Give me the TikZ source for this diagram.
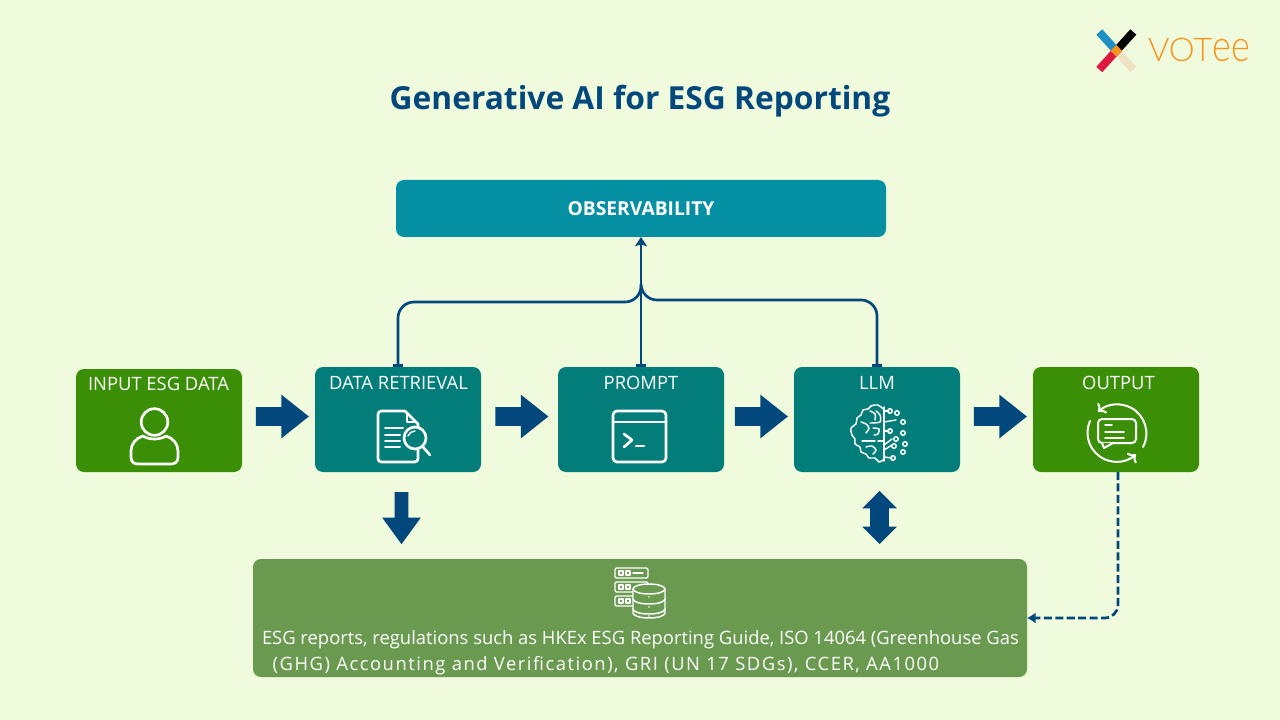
\documentclass[tikz,border=0pt]{standalone}
\usepackage{fontspec}
\usepackage{tikz}
\usetikzlibrary{arrows.meta,shapes.arrows}
\setmainfont{Open Sans}
\newfontfamily\logofont{Lato Light}
\definecolor{pagegreen}{HTML}{F0FADC}
\definecolor{navyblue}{HTML}{03487C}
\definecolor{stepteal}{HTML}{027D7A}
\definecolor{stepgreen}{HTML}{3A8F06}
\definecolor{storegreen}{HTML}{6A9A50}
\definecolor{watchteal}{HTML}{058FA3}
\definecolor{logoorange}{HTML}{F7941D}
\definecolor{logocream}{HTML}{EFE3C4}
\definecolor{logored}{HTML}{E0173F}
\definecolor{logoblue}{HTML}{1F8FC6}

\begin{document}
\begin{tikzpicture}[x=0.75pt, y=-0.75pt, every node/.style={font=\fontsize{13.8}{15}\selectfont, text=white, inner sep=0pt, outer sep=0pt},
	stepbox/.style={rounded corners=6pt, minimum width=124.5pt, minimum height=78.75pt},
	steplabel/.style={anchor=center},
	blockright/.style={single arrow, fill=navyblue, minimum height=39.75pt, minimum width=32.25pt, single arrow head extend=9.4pt, single arrow tip angle=77, single arrow head indent=0pt},
	blockdown/.style={single arrow, fill=navyblue, rotate=-90, minimum height=39pt, minimum width=28.5pt, single arrow head extend=9.4pt, single arrow tip angle=72, single arrow head indent=0pt},
	blockboth/.style={double arrow, fill=navyblue, rotate=90, minimum height=39.75pt, minimum width=25.5pt, double arrow head extend=6pt, double arrow tip angle=90, double arrow head indent=0pt},
	feedline/.style={draw=navyblue, line width=2pt},
	icon/.style={draw=white, line width=2pt, line cap=round, line join=round},
	midicon/.style={draw=white, line width=1.5pt, line cap=round, line join=round},
	thinicon/.style={draw=white, line width=1.1pt, line cap=round, line join=round}]
	\fill[pagegreen] (0,0) rectangle (1280,720);
	\useasboundingbox (0,0) rectangle (1280,720);

	\node[text=navyblue, font=\fontsize{23.8}{28}\selectfont\bfseries] (title) at (640,101) {Generative AI for ESG Reporting};

	\node[stepbox, fill=watchteal, minimum width=367.5pt, minimum height=42.75pt, font=\fontsize{14.4}{15}\selectfont\bfseries] (observability) at (641,208.5) {\raisebox{-1pt}{OBSERVABILITY}};
	\node[stepbox, fill=stepgreen, minimum height=77.25pt] (input) at (159,420.5) {};
	\node[stepbox, fill=stepteal] (retrieval) at (398,419.5) {};
	\node[stepbox, fill=stepteal] (prompt) at (641,419.5) {};
	\node[stepbox, fill=stepteal] (llm) at (877,419.5) {};
	\node[stepbox, fill=stepgreen] (output) at (1116,419.5) {};
	\node[stepbox, fill=storegreen, minimum width=580.5pt, minimum height=88.5pt] (store) at (640,618) {};

	\node[steplabel] (inputlabel) at (158.5,383.5) {INPUT ESG DATA};
	\node[steplabel] (retrievallabel) at (398.5,382.5) {DATA RETRIEVAL};
	\node[steplabel] (promptlabel) at (641,382.5) {PROMPT};
	\node[steplabel] (llmlabel) at (877,382.5) {LLM};
	\node[steplabel] (outputlabel) at (1118.5,382.5) {OUTPUT};
	\node[anchor=west, align=left, font=\fontsize{13.8}{19.5}\selectfont] (storelabel) at (262,653) {ESG reports, regulations such as HKEx ESG Reporting Guide, ISO 14064 (Greenhouse Gas\\\hspace*{8pt}{\addfontfeature{LetterSpace=8.3}(GHG) Accounting and Verification), GRI (UN 17 SDGs), CCER, AA1000}};

	\node[blockright] (arrowa) at (276.5,416.5) {\rule{0pt}{13.5pt}};
	\node[blockright] (arrowb) at (516,416.5) {\rule{0pt}{13.5pt}};
	\node[blockright] (arrowc) at (755.5,416.5) {\rule{0pt}{13.5pt}};
	\node[blockright] (arrowd) at (994.5,416.5) {\rule{0pt}{13.5pt}};
	\node[blockdown] (arrowe) at (401.5,513.5) {\rule{0pt}{9.75pt}};
	\node[blockboth] (arrowf) at (879.5,517.5) {\rule{0pt}{13.5pt}};

	\coordinate (join) at (641,286);
	\coordinate (railleft) at (641,302);
	\coordinate (railright) at (641,300);
	\draw[feedline, {Stealth[length=7pt,width=9pt,inset=1.5pt]}-] (observability.south) -- (prompt.north);
	\draw[feedline, {Bar[width=8pt]}-] (prompt.north) -- (join);
	\draw[feedline, {Bar[width=8pt]}-, rounded corners=12pt] (retrieval.north) |- (railleft) -- (join);
	\draw[feedline, {Bar[width=8pt]}-, rounded corners=12pt] (llm.north) |- (railright) -- (join);
	\draw[feedline, dashed, dash pattern=on 6pt off 2.6pt, -{Latex[length=6.5pt,width=8.5pt]}, rounded corners=10pt] ([xshift=1.5pt]output.south) |- (store.east);

	% person
	\draw[icon] (154.5,422) circle (13.3);
	\draw[icon] (143,436) .. controls (149,440) and (160,440) .. (166,436) .. controls (173,438) and (178,444) .. (178,451) -- (178,457) .. controls (178,462) and (175,464) .. (171,464) -- (138,464) .. controls (134,464) and (131,462) .. (131,457) -- (131,451) .. controls (131,444) and (136,438) .. (143,436) -- cycle;

	% document
	\draw[icon, rounded corners=2.5pt] (418,450) -- (418,462) -- (378,462) -- (378,411) -- (405,411);
	\draw[icon] (405,411) -- (418,424) -- (418,427);
	\draw[midicon] (407,414) -- (407,422) -- (415,422);
	\foreach \y/\x in {428/403,435/400,441/400,447/400} {\draw[midicon] (385,\y) -- (\x,\y);}
	\draw[icon, fill=stepteal] (415,438) circle (11);
	\draw[icon] (423,447) -- (430,455);
	\draw[thinicon] (408,436) .. controls (409,433) and (412,431) .. (415,431);

	% window
	\draw[icon, rounded corners=3pt] (613,411) rectangle (666,462);
	\draw[icon] (613,422) -- (666,422);
	\draw[icon] (624,434) -- (632,440) -- (624,447);
	\draw[icon] (636,446) -- (644,446);

	% brain
	\draw[thinicon] plot[smooth, tension=0.7] coordinates {(883,409) (878,405) (871,406) (868,409) (863,410) (861,415) (857,418) (856,424) (851,428) (852,435) (855,439) (855,444) (860,447) (861,452) (866,454) (869,458) (875,458) (879,462) (883,460)};
	\draw[thinicon] (884,407) -- (884,461);
	\draw[thinicon] plot[smooth] coordinates {(870,411) (875,414) (875,420)};
	\draw[thinicon] plot[smooth] coordinates {(861,422) (866,424) (869,428) (866,433)};
	\draw[thinicon] plot[smooth] coordinates {(873,428) (879,429) (878,434) (874,435)};
	\draw[thinicon] plot[smooth] coordinates {(876,411) (880,415) (880,422) (870,423)};
	\draw[thinicon] (862,441) -- (875,441);
	\draw[thinicon] (878,441) -- (884,441);
	\draw[thinicon] plot[smooth] coordinates {(866,447) (872,446) (876,450) (873,454)};
	\foreach \a/\b/\c/\d in {884/411/889/411,884/431/889/431,884/445/892/439,884/450/892/445,884/457/892/458,884/422/896/420} {\draw[thinicon] (\a,\b) -- (\c,\d);}
	\foreach \a/\b in {890/411,897/413,903/422,890/431,903/433,896/439,905/444,894/446,903/452,893/458} {\draw[thinicon] (\a,\b) circle (2.3);}

	% chat and cycle
	\draw[midicon, ->] (1143,447) arc (28:-132:29);
	\draw[midicon, ->] (1090,421) arc (204:48:29);
	\draw[midicon, rounded corners=3pt] (1098,419) rectangle (1136,443);
	\draw[midicon, fill=stepgreen] (1102,443) -- (1104,448) -- (1113,443);
	\draw[thinicon] (1105,425) -- (1112,425);
	\draw[thinicon] (1105,432) -- (1124,432);
	\draw[thinicon] (1105,438) -- (1124,438);

	% servers and database
	\foreach \y in {568,582,596} {
		\draw[thinicon, rounded corners=1pt] (615,\y) rectangle (648,\y+10);
		\draw[thinicon] (619,\y+3) rectangle (623,\y+7);
		\draw[thinicon] (626,\y+3) rectangle (630,\y+7);
	}
	\draw[thinicon] (633,573) -- (643,573);
	\draw[thinicon, fill=storegreen] (633,589) -- (633,613) arc (180:0:16 and 5) -- (665,589);
	\draw[thinicon, fill=storegreen] (649,589) ellipse (16 and 5);
	\draw[thinicon] (633,599) arc (180:0:16 and 5);
	\draw[thinicon] (633,609) arc (180:0:16 and 5);
	\foreach \y in {597,607,616} {\fill[white] (649,\y) circle (0.8);}

	% logo
	\draw[line width=6pt, color=logocream] (1116.3,50.8) -- (1133.3,69.5);
	\draw[line width=6pt, color=black] (1116.3,50.8) -- (1133.3,32);
	\draw[line width=6pt, color=logored] (1116.3,50.8) -- (1099.3,69.5);
	\draw[line width=6pt, color=logoblue] (1116.3,50.8) -- (1099.3,32);
	\fill[logoorange] (1116.3,45) -- (1122,50.8) -- (1116.3,56.6) -- (1110.6,50.8) -- cycle;
	\node[anchor=west, text=logoorange, font=\fontsize{24.5}{28}\logofont] (logotext) at (1148,50) {VOT\scalebox{0.82}[1]{\fontsize{33}{28}\selectfont ee}};
\end{tikzpicture}
\end{document}
